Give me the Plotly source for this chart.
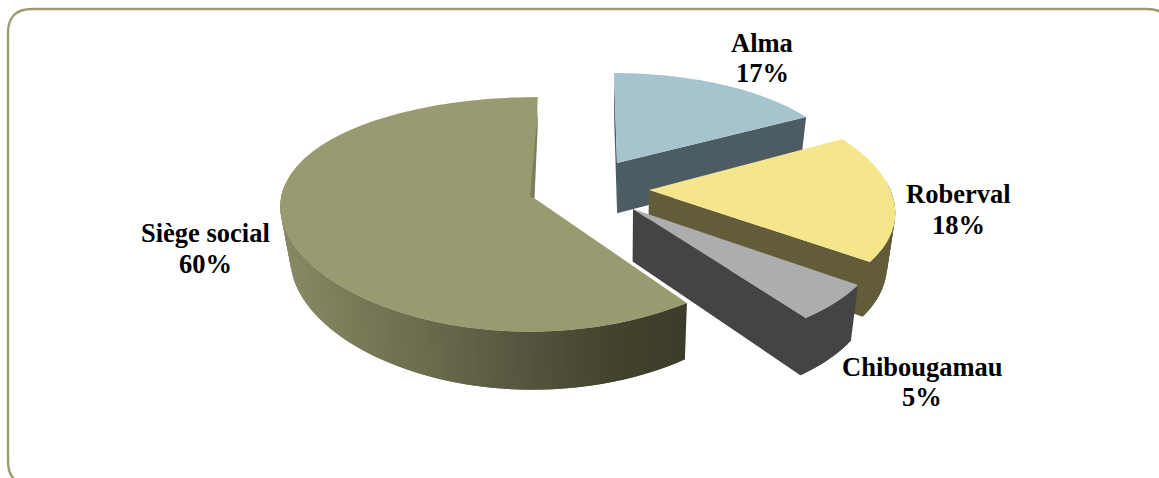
import numpy as np
import plotly.graph_objects as go

# Share of staff per site, clockwise from twelve o'clock
categories = ["Alma", "Roberval", "Chibougamau", "Siège social"]
shares = [17, 18, 5, 60]

W, H = 1159, 478

# Perspective settings for each exploded slice: apex position, horizontal and
# vertical radii, foreshortening, horizontal skew
projection = {
    "Alma":         dict(cx=617, cy=163, rx=228, ry=101, kx=0.10, ky=0.123, sx=-3.3),
    "Roberval":     dict(cx=649, cy=190, rx=241.4, ry=112.7, kx=0.198, ky=0.135, sx=0),
    "Chibougamau":  dict(cx=633, cy=209, rx=243, ry=116.8, kx=0.215, ky=0.164, sx=0),
    "Siège social": dict(cx=534, cy=198, rx=253, ry=115, kx=0.06, ky=0.14, sx=4),
}
face_colors = {
    "Alma": "#a6c4ce",
    "Roberval": "#f6e68b",
    "Chibougamau": "#adadad",
    "Siège social": "#9a9a70",
}
wall_colors = {
    "Alma": "#4d5c63",
    "Roberval": "#625c38",
    "Chibougamau": "#444444",
}
# Left-to-right shading of the large slice's curved wall
ramp_x = [285, 400, 510, 620, 686]
ramp_rgb = np.array([[136, 136, 100], [112, 112, 81], [88, 88, 64], [66, 66, 44], [60, 60, 42]])

label_lines = {
    "Alma": (762, 43, 73),
    "Roberval": (958, 194, 225),
    "Chibougamau": (922, 367, 397),
    "Siège social": (205, 233, 264),
}


def rim(p, theta):
    """Project an angle (radians, clockwise from the back) onto the slice's top rim."""
    s, c = np.sin(theta), np.cos(theta)
    x = p["cx"] + (p["rx"] * s + p["sx"] * c) / (1 + p["kx"] * c)
    y = p["cy"] - p["ry"] * c / (1 + p["ky"] * c)
    return x, y


def lower(x, y):
    """Move a top-rim point down to the bottom of the pie's thickness."""
    return 620 + (x - 620) * 0.97, y + 43 + 0.045 * y


def ramp(x):
    rgb = [np.interp(x, ramp_x, ramp_rgb[:, i]) for i in range(3)]
    return "rgb({:.0f},{:.0f},{:.0f})".format(*rgb)


def polygon(xs, ys, color):
    return go.Scatter(
        x=list(xs), y=list(ys), mode="none", fill="toself", fillcolor=color,
        hoverinfo="skip", showlegend=False,
    )


fig = go.Figure()
edges = np.concatenate([[0], np.cumsum(shares)]) / sum(shares) * 2 * np.pi

for name, start, stop in zip(categories, edges[:-1], edges[1:]):
    p = projection[name]
    steps = max(8, int(np.degrees(stop - start) / 1.5))
    th = np.linspace(start, stop, steps + 1)
    x, y = rim(p, th)
    bx, by = lower(x, y)
    ax, ay = p["cx"], p["cy"]
    abx, aby = lower(ax, ay)
    flat = wall_colors.get(name)

    if flat:
        # Cut wall facing the viewer
        fig.add_trace(polygon(
            [ax, x[-1], bx[-1], abx, ax],
            [ay, y[-1], by[-1], aby, ay],
            flat,
        ))
    if name == "Alma":
        # Far cut wall, seen as a thin dark edge beside the top face
        fig.add_trace(polygon([ax, x[0], bx[0], abx, ax], [ay, y[0], by[0], aby, ay], flat))

    # Curved outer wall, front part only; each strip overlaps the next so no seam shows
    visible = [i for i in range(steps) if np.cos(th[i]) < 0.1]
    for i in visible:
        j = min(i + 2, steps)
        color = flat or ramp((x[i] + x[i + 1]) / 2)
        fig.add_trace(polygon(
            [x[i], x[j], bx[j], bx[i], x[i]],
            [y[i], y[j], by[j], by[i], y[i]],
            color,
        ))

    # Stroke along the corner where the cut wall meets the curved wall
    if flat and visible:
        fig.add_trace(go.Scatter(
            x=[x[-1], bx[-1]], y=[y[-1] + 1, by[-1] - 1], mode="lines",
            line=dict(color=flat, width=1.5), hoverinfo="skip", showlegend=False,
        ))

    # Top face
    fig.add_trace(polygon(
        np.concatenate([[ax], x, [ax]]), np.concatenate([[ay], y, [ay]]), face_colors[name],
    ))

    # Sliver of the far cut wall showing through on the large slice
    if name == "Siège social":
        ex, ey = x[-1], y[-1]
        fig.add_trace(polygon(
            [ex, ex, ax + 0.5, ax - 4, ex],
            [ey + 13, ey + 28, ay, ay - 1, ey + 13],
            "#7e7e5e",
        ))

annotations = []
for name, share in zip(categories, shares):
    lx, y1, y2 = label_lines[name]
    for text, ly in ((name, y1), (f"{share}%", y2)):
        annotations.append(dict(
            x=lx, y=ly, text=f"<b>{text}</b>", showarrow=False, xanchor="center", yanchor="middle",
            font=dict(family="Liberation Serif", size=26.5, color="#000000"),
        ))

# Rounded frame that runs past the right and bottom edges of the page
frame = "M 8 33 Q 8 9 32 9 L 1147 9 Q 1171 9 1171 33 L 1171 461 Q 1171 485 1147 485 L 32 485 Q 8 485 8 461 Z"

fig.update_layout(
    width=W, height=H, margin=dict(l=0, r=0, t=0, b=0),
    paper_bgcolor="white", plot_bgcolor="white",
    xaxis=dict(range=[0, W], visible=False, fixedrange=True),
    yaxis=dict(range=[H, 0], visible=False, fixedrange=True),
    shapes=[dict(type="path", path=frame, xref="x", yref="y", line=dict(color="#9b9b6f", width=2.4), layer="below")],
    annotations=annotations,
    showlegend=False,
)
fig.write_html("out.html", config=dict(displayModeBar=False))
